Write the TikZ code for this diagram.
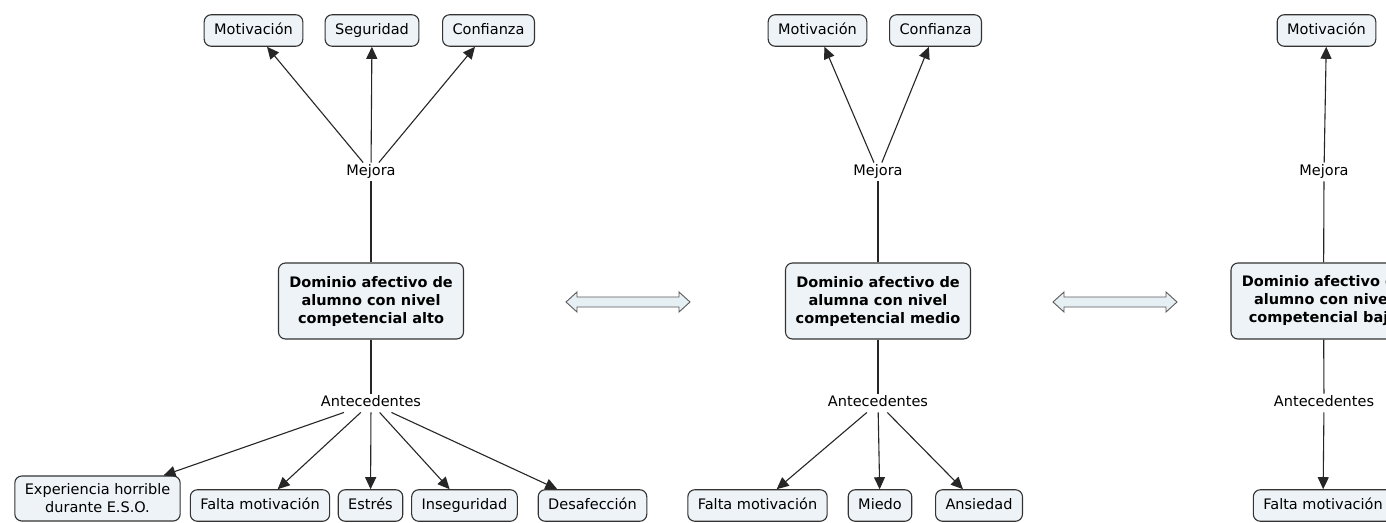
\documentclass[tikz,border=0pt]{standalone}
\usepackage{fontspec}
\setmainfont{DejaVu Sans}
\usetikzlibrary{arrows.meta}
\definecolor{boxfill}{HTML}{EDF3F6}
\definecolor{boxline}{HTML}{333333}
\definecolor{dafill}{HTML}{E6EFF3}
\definecolor{daline}{HTML}{5A5A5A}
\begin{document}
\begin{tikzpicture}[x=1pt,y=-1pt,
  basebox/.style={draw=boxline, fill=boxfill, rounded corners=7pt, line width=1.1pt,
    font=\fontsize{14.5}{18}\selectfont, inner xsep=10pt, inner ysep=0pt, align=center},
  concept/.style={basebox, minimum height=31.5pt, text height=11pt, text depth=3.5pt},
  twoline/.style={basebox, minimum height=45pt},
  mainbox/.style={basebox, font=\fontsize{14.5}{18}\selectfont\bfseries, minimum width=185pt, minimum height=76pt},
  linklabel/.style={font=\fontsize{14.5}{18}\selectfont, inner sep=2pt, text height=11pt, text depth=3.5pt},
  conn/.style={line width=1.1pt, draw=black!85},
  arr/.style={conn, -{Triangle[length=12pt,width=11pt]}},
  dblarrow/.style={draw=daline, fill=dafill, line width=0.9pt, line join=miter}
]
\useasboundingbox (0,0) rectangle (1386,522);
\fill[white] (0,0) rectangle (1386,522);
\clip (0,0) rectangle (1386,522);

% ---------- left column ----------
\node[concept] (motA) at (253.5,30.5) {Motivación};
\node[concept] (segA) at (372,30.5) {Seguridad};
\node[concept] (conA) at (488.5,30.5) {Confianza};
\node[linklabel] (mejA) at (371,172) {Mejora};
\node[mainbox] (domA) at (371,301) {Dominio afectivo de\\alumno con nivel\\competencial alto};
\node[linklabel] (antA) at (371,403) {Antecedentes};
\node[twoline] (expA) at (97.5,498.5) {Experiencia horrible\\durante E.S.O.};
\node[concept] (falA) at (260,505.5) {Falta motivación};
\node[concept] (estA) at (370.5,505.5) {Estrés};
\node[concept] (insA) at (464.5,505.5) {Inseguridad};
\node[concept] (desA) at (592.5,505.5) {Desafección};

\draw[conn] (domA) -- (mejA);
\draw[arr] (mejA) -- (motA);
\draw[arr] (mejA) -- (segA);
\draw[arr] (mejA) -- (conA);
\draw[conn] (domA) -- (antA);
\draw[arr] (antA) -- (expA);
\draw[arr] (antA) -- (falA);
\draw[arr] (antA) -- (estA);
\draw[arr] (antA) -- (insA);
\draw[arr] (antA) -- (desA);

% ---------- middle column ----------
\node[concept] (motB) at (817.5,30.5) {Motivación};
\node[concept] (conB) at (935.5,30.5) {Confianza};
\node[linklabel] (mejB) at (878,172) {Mejora};
\node[mainbox] (domB) at (878,301) {Dominio afectivo de\\alumna con nivel\\competencial medio};
\node[linklabel] (antB) at (878,403) {Antecedentes};
\node[concept] (falB) at (757.5,505.5) {Falta motivación};
\node[concept] (mieB) at (880,505.5) {Miedo};
\node[concept] (ansB) at (979,505.5) {Ansiedad};

\draw[conn] (domB) -- (mejB);
\draw[arr] (mejB) -- (motB);
\draw[arr] (mejB) -- (conB);
\draw[conn] (domB) -- (antB);
\draw[arr] (antB) -- (falB);
\draw[arr] (antB) -- (mieB);
\draw[arr] (antB) -- (ansB);

% ---------- right column ----------
\node[concept] (motC) at (1326.5,30.5) {Motivación};
\node[linklabel] (mejC) at (1324,172) {Mejora};
\node[mainbox] (domC) at (1323.5,301) {Dominio afectivo de\\alumno con nivel\\competencial bajo};
\node[linklabel] (antC) at (1324,403) {Antecedentes};
\node[concept] (falC) at (1323,505.5) {Falta motivación};

\draw[conn] (domC) -- (mejC);
\draw[arr] (mejC) -- (motC);
\draw[conn] (domC) -- (antC);
\draw[arr] (antC) -- (falC);

% ---------- double arrows ----------
\draw[dblarrow] (566,302) -- (577,292) -- (577,297) -- (679,297) -- (679,292) -- (690,302)
  -- (679,312) -- (679,307) -- (577,307) -- (577,312) -- cycle;
\draw[dblarrow] (1053,302) -- (1064,292) -- (1064,297) -- (1166,297) -- (1166,292) -- (1177,302)
  -- (1166,312) -- (1166,307) -- (1064,307) -- (1064,312) -- cycle;
\end{tikzpicture}
\end{document}
